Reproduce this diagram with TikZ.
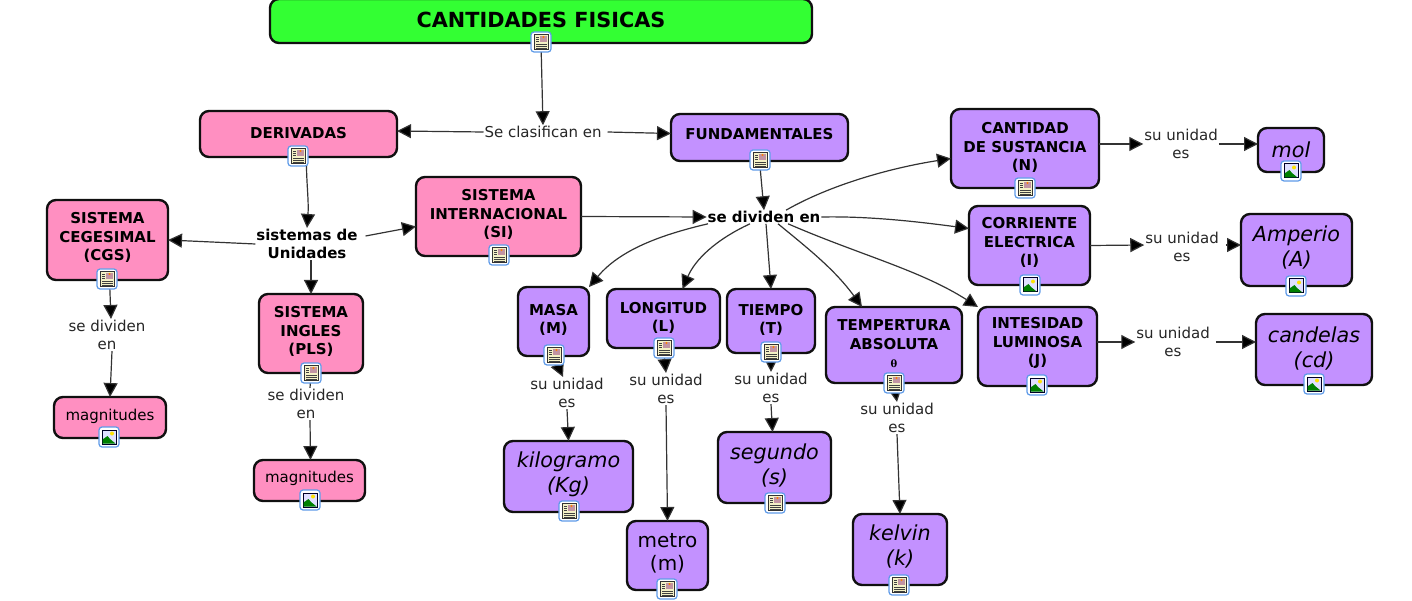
\documentclass[tikz,border=0pt]{standalone}
\usepackage{fontspec}
\setmainfont{DejaVu Sans}
\newfontfamily\thetafont{DejaVu Serif}
\usetikzlibrary{arrows.meta}
\definecolor{pinkc}{HTML}{FF8FC1}
\definecolor{purpc}{HTML}{C391FF}
\definecolor{greenc}{HTML}{33FF33}
\definecolor{inkc}{HTML}{101010}
\definecolor{iconb}{HTML}{5F9BE8}
\newcommand\fs[2]{\fontsize{#1}{#2}\selectfont}
\newcommand\btrail{0pt}
\tikzset{
 x=1pt,y=-1pt,
 basebox/.style={draw=inkc,line width=2.4pt,rounded corners=9pt,inner sep=0pt,outer sep=0pt,text=black},
 pinkb/.style={basebox,fill=pinkc,font=\fs{15}{18.5}\bfseries},
 purpb/.style={basebox,fill=purpc,font=\fs{15}{18.5}\bfseries},
 pinkr/.style={basebox,fill=pinkc,font=\fs{15}{18}},
 bigi/.style={basebox,fill=purpc,font=\fs{20.7}{24.5}\itshape\renewcommand\btrail{7pt}},
 bigr/.style={basebox,fill=purpc,font=\fs{20}{23.5}},
 titleb/.style={basebox,fill=greenc,font=\fs{20.8}{24}\bfseries},
 lab/.style={inner sep=1pt,outer sep=0pt,align=center,font=\fs{15}{18.5},text=black!85},
 labb/.style={lab,text=black,font=\fs{15}{18.5}\bfseries},
 conn/.style={draw=black!80,line width=1.2pt,-{Triangle[length=14pt,width=14pt,fill=black]}},
 stub/.style={draw=black!80,line width=1.2pt},
 docic/.pic={
  \draw[iconb,fill=white,line width=1.2pt,rounded corners=3pt] (-10,-10) rectangle (10,10);
  \draw[black!80,fill=yellow!20!white!95!black,line width=.8pt] (-7,-7.5) rectangle (7,7.5);
  \fill[orange!60!blue!60] (-1,-6) rectangle (5.5,0);
  \fill[orange] (2.5,-5) circle (1.2);
  \draw[black!75,line width=.8pt] (-5,-5)--(-2.5,-5) (-5,-3)--(-2.5,-3) (-5,-1)--(-2.5,-1) (-5,2)--(5.5,2) (-5,4)--(5.5,4) (-5,6)--(5.5,6);
 },
 imgic/.pic={
  \draw[iconb,fill=white,line width=1.2pt,rounded corners=3pt] (-10,-10) rectangle (10,10);
  \draw[black!85!blue,fill=blue!12!white,line width=1pt] (-7,-7) rectangle (7,7);
  \fill[yellow!85!orange] (3,-3.5) circle (2);
  \fill[green!50!black] (-6.5,6.5) -- (-6.5,2.5) -- (-1.5,-1) -- (1,2) -- (6.5,6.5) -- cycle;
 },
}
% name x1 y1 x2 y2 style text-centre-y text
\newcommand\bx[8]{%
 \pgfmathsetmacro\bcx{(#2+#4)/2}\pgfmathsetmacro\bcy{(#3+#5)/2}%
 \pgfmathsetmacro\bw{#4-#2}\pgfmathsetmacro\bh{#5-#3}%
 \pgfmathsetmacro\bdy{\bcy-#7-6.3}%
 \node[#6,minimum width=\bw pt,minimum height=\bh pt] (#1) at (\bcx,\bcy)
  {\raisebox{\bdy pt}[0pt][0pt]{\begin{tabular}{@{}c@{}}#8\end{tabular}}\hspace{\btrail}};}
\begin{document}
\begin{tikzpicture}
\useasboundingbox[fill=white] (0,0) rectangle (1412,601);
% concept boxes
\bx{title}{270}{-1}{812}{43}{titleb}{22}{CANTIDADES FISICAS}
\bx{der}{200}{111}{397}{157}{pinkb}{132}{DERIVADAS}
\bx{fund}{671}{114}{848}{161}{purpb}{133}{FUNDAMENTALES}
\bx{cant}{951}{109}{1099}{188}{purpb}{146}{CANTIDAD\\DE SUSTANCIA\\(N)}
\bx{mol}{1258}{128}{1324}{172}{bigi}{151}{mol}
\bx{corr}{969}{206}{1090}{285}{purpb}{241}{CORRIENTE\\ELECTRICA\\(I)}
\bx{amp}{1241}{214}{1352}{286}{bigi}{248}{Amperio\\(A)}
\bx{si}{416}{177}{581}{256}{pinkb}{213}{SISTEMA\\INTERNACIONAL\\(SI)}
\bx{cgs}{47}{200}{168}{280}{pinkb}{236}{SISTEMA\\CEGESIMAL\\(CGS)}
\bx{pls}{259}{294}{363}{373}{pinkb}{330}{SISTEMA\\INGLES\\(PLS)}
\bx{magA}{54}{397}{166}{438}{pinkr}{414}{magnitudes}
\bx{magB}{254}{460}{365}{501}{pinkr}{476}{magnitudes}
\bx{masa}{518}{287}{589}{356}{purpb}{318}{MASA\\(M)}
\bx{long}{607}{289}{720}{348}{purpb}{316}{LONGITUD\\(L)}
\bx{tiem}{727}{289}{815}{353}{purpb}{318}{TIEMPO\\(T)}
\bx{temp}{826}{307}{962}{383}{purpb}{343}{TEMPERTURA\\ABSOLUTA\\{\thetafont\fontsize{10}{10}\selectfont θ}}
\bx{inte}{978}{307}{1097}{386}{purpb}{341}{INTESIDAD\\LUMINOSA\\(J)}
\bx{cand}{1256}{314}{1372}{385}{bigi}{349}{candelas\\(cd)}
\bx{kilo}{504}{441}{633}{512}{bigi}{474}{kilogramo\\(Kg)}
\bx{segu}{718}{432}{831}{503}{bigi}{466}{segundo\\(s)}
\bx{metr}{627}{521}{708}{590}{bigr}{553}{metro\\(m)}
\bx{kelv}{853}{514}{947}{585}{bigi}{547}{kelvin\\(k)}
% linking phrases
\node[lab] (clas) at (543,132) {Se clasifican en};
\node[labb] (sist) at (307,244) {sistemas de\\Unidades};
\node[labb] (divi) at (764,217) {se dividen en};
\node[lab] (dcgs) at (107,335) {se dividen\\en};
\node[lab] (dpls) at (306,404) {se dividen\\en};
\node[lab] (umol) at (1181,144) {su unidad\\es};
\node[lab] (uamp) at (1182,247) {su unidad\\es};
\node[lab] (ucan) at (1173,342) {su unidad\\es};
\node[lab] (umas) at (567,393) {su unidad\\es};
\node[lab] (ulon) at (666,389) {su unidad\\es};
\node[lab] (utie) at (771,388) {su unidad\\es};
\node[lab] (utem) at (897,418) {su unidad\\es};
% connectors
\draw[conn] (title.south) -- (clas.north);
\draw[conn] (clas.west) -- ([yshift=3]der.east);
\draw[conn] ([xshift=5]clas.east) -- ([yshift=4]fund.west);
\draw[conn] ([xshift=8]der.south) .. controls (306,180) and (309,200) .. (sist.north);
\draw[conn] (sist.west) -- (cgs.east);
\draw[conn] ([xshift=7,yshift=8]sist.east) -- ([yshift=-10]si.west);
\draw[conn] ([xshift=4]sist.south) -- (pls.north);
\draw[conn] ([xshift=2]cgs.south) -- ([xshift=4]dcgs.north);
\draw[conn] ([xshift=5]dcgs.south) -- (magA.north);
\draw[stub] (pls.south) -- ([xshift=4]dpls.north);
\draw[conn] ([xshift=4]dpls.south) -- ([xshift=1]magB.north);
\draw[conn] (si.east) -- (divi.west);
\draw[conn] (fund.south) -- (divi.north);
\draw[conn] ([xshift=22]divi.north) .. controls (830,185) and (890,168) .. ([yshift=-10]cant.west);
\draw[conn] (divi.east) .. controls (870,216) and (920,222) .. ([yshift=17]corr.west);
\draw[conn] ([xshift=-56]divi.south) .. controls (660,235) and (620,250) .. (masa.north east);
\draw[conn] ([xshift=-14]divi.south) .. controls (715,240) and (695,260) .. ([xshift=19]long.north);
\draw[conn] ([xshift=2]divi.south) -- (tiem.north);
\draw[conn] ([xshift=14]divi.south) .. controls (810,250) and (835,270) .. ([xshift=-32]temp.north);
\draw[conn] ([xshift=24]divi.south) .. controls (860,255) and (920,270) .. (inte.north west);
\draw[conn] (masa.south) -- ([xshift=-4]umas.north);
\draw[conn] (long.south) -- (ulon.north);
\draw[conn] (tiem.south) -- (utie.north);
\draw[conn] (temp.south) -- (utem.north);
\draw[conn] (umas.south) -- (kilo.north);
\draw[conn] (ulon.south) -- (metr.north);
\draw[conn] (utie.south) -- ([xshift=-2]segu.north);
\draw[conn] (utem.south) -- (kelv.north);
\draw[conn] ([yshift=4.5]cant.east) -- (umol.west);
\draw[conn] (umol.east) -- ([yshift=6]mol.west);
\draw[conn] (corr.east) -- ([yshift=2]uamp.west);
\draw[conn] ([xshift=6,yshift=2]uamp.east) -- ([yshift=5]amp.west);
\draw[conn] ([yshift=4.5]inte.east) -- (ucan.west);
\draw[conn] ([xshift=5]ucan.east) -- ([yshift=7.5]cand.west);
% icons
\foreach \p/\q in {541/42,298/156,760/160,1025/188,499/255,107/279,311/373,554/355,664/348,771/352,894/383,569/511,775/503,667/589,899/585}
  \pic at (\p,\q) {docic};
\foreach \p/\q in {1291/171,1030/285,1296/286,109/437,310/500,1037/385,1314/384}
  \pic at (\p,\q) {imgic};
\end{tikzpicture}
\end{document}
